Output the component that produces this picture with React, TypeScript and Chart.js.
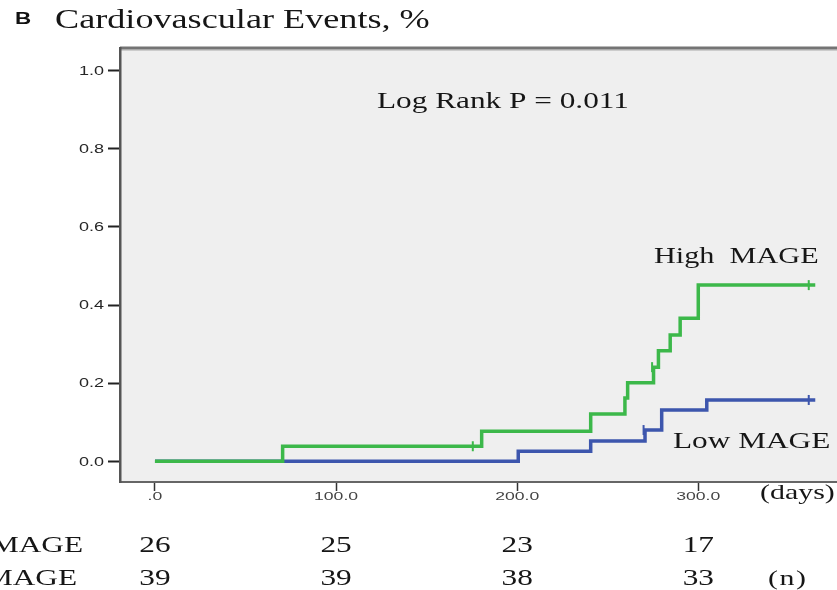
import { useEffect, useRef } from "react";
import Chart from "chart.js/auto";

// Axis ticks
const X_TICKS = [0, 100, 200, 300];
const X_TICK_LABELS = [".0", "100.0", "200.0", "300.0"];
const Y_TICKS = [0, 0.2, 0.4, 0.6, 0.8, 1.0];
const Y_TICK_LABELS = ["0.0", "0.2", "0.4", "0.6", "0.8", "1.0"];

// Kaplan-Meier cumulative event curves (day, cumulative event rate)
const HIGH_DAYS = [0, 70.5, 180.4, 240.6, 259.5, 261, 275.3, 278, 284.5, 290, 300, 364.6];
const HIGH_RATES = [0, 0.0385, 0.077, 0.121, 0.162, 0.201, 0.241, 0.283, 0.323, 0.366, 0.451, 0.451];
const HIGH_CENSOR_DAYS = [175.5, 274.5, 361];
const HIGH_CENSOR_RATES = [0.0385, 0.241, 0.451];

const LOW_DAYS = [0, 200.6, 240.6, 270.6, 279.8, 304.7, 364.6];
const LOW_RATES = [0, 0.026, 0.052, 0.08, 0.131, 0.157, 0.157];
const LOW_CENSOR_DAYS = [269.8, 361];
const LOW_CENSOR_RATES = [0.08, 0.157];

// Numbers at risk
const RISK_DAYS = [0, 100, 200, 300];
const HIGH_AT_RISK = [26, 25, 23, 17];
const LOW_AT_RISK = [39, 39, 38, 33];

const GREEN = "#3cb84a";
const BLUE = "#3d56ad";
const INK = "#161616";
const SERIF = '"Liberation Serif", "Times New Roman", serif';
const SANS = '"Liberation Sans", Arial, sans-serif';
const SX = 1.36;

function stretchedText(
  ctx: CanvasRenderingContext2D,
  text: string,
  x: number,
  y: number,
  font: string,
  color: string,
  sx: number,
  align: "left" | "center" | "right",
  baseline: CanvasTextBaseline = "alphabetic"
) {
  ctx.save();
  ctx.font = font;
  ctx.fillStyle = color;
  ctx.textAlign = "left";
  ctx.textBaseline = baseline;
  const w = ctx.measureText(text).width * sx;
  const x0 = align === "left" ? x : align === "center" ? x - w / 2 : x - w;
  ctx.translate(x0, y);
  ctx.scale(sx, 1);
  ctx.fillText(text, 0, 0);
  ctx.restore();
}

const panelPlugin = {
  id: "kmPanel",
  beforeDraw(chart: any) {
    const { ctx, chartArea } = chart;
    const { left, right, top, bottom } = chartArea;
    ctx.save();
    ctx.fillStyle = "#efefef";
    ctx.fillRect(left, top, right - left, bottom - top);
    ctx.fillStyle = "#747474";
    ctx.fillRect(left, top - 1.5, right - left, 2.5);
    ctx.fillStyle = "#a9a9a9";
    ctx.fillRect(left, top + 1, right - left, 1.5);
    ctx.restore();
  },
  afterDraw(chart: any) {
    const { ctx } = chart;
    const xs = chart.scales.x;
    const ys = chart.scales.y;

    // tick labels
    Y_TICKS.forEach((v, i) => {
      stretchedText(ctx, Y_TICK_LABELS[i], 104, ys.getPixelForValue(v) + 1, `12px ${SANS}`, "#262626", 1.5, "right", "middle");
    });
    X_TICKS.forEach((v, i) => {
      stretchedText(ctx, X_TICK_LABELS[i], xs.getPixelForValue(v), 497, `11px ${SANS}`, "#444", 1.6, "center", "middle");
    });

    // heading
    stretchedText(ctx, "B", 15, 24, `bold 16px ${SANS}`, "#111", 1.4, "left");
    stretchedText(ctx, "Cardiovascular Events, %", 55, 28, `27px ${SERIF}`, INK, 1.34, "left");

    // annotations
    stretchedText(ctx, "Log Rank P = 0.011", 377, 108, `23px ${SERIF}`, INK, SX, "left");
    stretchedText(ctx, "High  MAGE", 654, 263, `24px ${SERIF}`, INK, 1.26, "left");
    stretchedText(ctx, "Low MAGE", 673, 448, `23px ${SERIF}`, INK, SX, "left");
    stretchedText(ctx, "(days)", 760, 499, `22px ${SERIF}`, INK, SX, "left");

    // numbers at risk
    stretchedText(ctx, "High MAGE", 83, 552, `23px ${SERIF}`, INK, SX, "right");
    stretchedText(ctx, "Low MAGE", 77, 585, `23px ${SERIF}`, INK, SX, "right");
    RISK_DAYS.forEach((d, i) => {
      const px = xs.getPixelForValue(d);
      stretchedText(ctx, String(HIGH_AT_RISK[i]), px, 552, `23px ${SERIF}`, INK, SX, "center");
      stretchedText(ctx, String(LOW_AT_RISK[i]), px, 585, `23px ${SERIF}`, INK, SX, "center");
    });
    stretchedText(ctx, "(", 768, 585, `22px ${SERIF}`, INK, SX, "left");
    stretchedText(ctx, "n", 787, 585, `22px ${SERIF}`, INK, SX, "center");
    stretchedText(ctx, ")", 806, 585, `22px ${SERIF}`, INK, SX, "right");
  },
};

export default function App() {
  const canvasRef = useRef<HTMLCanvasElement | null>(null);

  useEffect(() => {
    if (!canvasRef.current) return;
    const pts = (xs: number[], ys: number[]) => xs.map((x, i) => ({ x, y: ys[i] }));

    const chart = new Chart(canvasRef.current, {
      type: "line",
      data: {
        datasets: [
          {
            label: "High MAGE",
            data: pts(HIGH_DAYS, HIGH_RATES),
            borderColor: GREEN,
            borderWidth: 3.5,
            stepped: "before",
            pointRadius: 0,
            fill: false,
            order: 1,
          },
          {
            label: "High MAGE censored",
            type: "scatter",
            data: pts(HIGH_CENSOR_DAYS, HIGH_CENSOR_RATES),
            borderColor: GREEN,
            backgroundColor: GREEN,
            pointStyle: "line",
            rotation: 90,
            pointRadius: 5,
            borderWidth: 2,
            order: 0,
          },
          {
            label: "Low MAGE",
            data: pts(LOW_DAYS, LOW_RATES),
            borderColor: BLUE,
            borderWidth: 3.5,
            stepped: "before",
            pointRadius: 0,
            fill: false,
            order: 3,
          },
          {
            label: "Low MAGE censored",
            type: "scatter",
            data: pts(LOW_CENSOR_DAYS, LOW_CENSOR_RATES),
            borderColor: BLUE,
            backgroundColor: BLUE,
            pointStyle: "line",
            rotation: 90,
            pointRadius: 5,
            borderWidth: 2,
            order: 2,
          },
        ],
      },
      options: {
        responsive: false,
        animation: false,
        devicePixelRatio: 1,
        layout: { autoPadding: false, padding: { top: 48, left: 0, right: 0, bottom: 0 } },
        plugins: {
          legend: { display: false },
          tooltip: { enabled: false },
          title: { display: false },
        },
        scales: {
          x: {
            type: "linear",
            min: -19.3,
            max: 376.6,
            afterFit: (s: any) => {
              s.height = 108;
            },
            afterBuildTicks: (s: any) => {
              s.ticks = X_TICKS.map((v) => ({ value: v }));
            },
            ticks: { color: "rgba(0,0,0,0)", font: { size: 10 }, maxRotation: 0, autoSkip: false },
            grid: {
              drawOnChartArea: false,
              drawTicks: true,
              tickLength: 9,
              tickWidth: 1.5,
              tickColor: "#333",
            },
            border: { display: true, color: "#666", width: 2 },
          },
          y: {
            type: "linear",
            min: -0.053,
            max: 1.058,
            afterFit: (s: any) => {
              s.width = 120;
            },
            afterBuildTicks: (s: any) => {
              s.ticks = Y_TICKS.map((v) => ({ value: v }));
            },
            ticks: { color: "rgba(0,0,0,0)", font: { size: 10 }, autoSkip: false },
            grid: {
              drawOnChartArea: false,
              drawTicks: true,
              tickLength: 12,
              tickWidth: 2,
              tickColor: "#222",
            },
            border: { display: true, color: "#555", width: 2.5 },
          },
        },
      },
      plugins: [panelPlugin],
    });

    return () => chart.destroy();
  }, []);

  return (
    <div style={{ position: "absolute", left: 0, top: 0, width: 837, height: 590, background: "#fff" }}>
      <canvas ref={canvasRef} width={837} height={590} style={{ display: "block" }} />
    </div>
  );
}
